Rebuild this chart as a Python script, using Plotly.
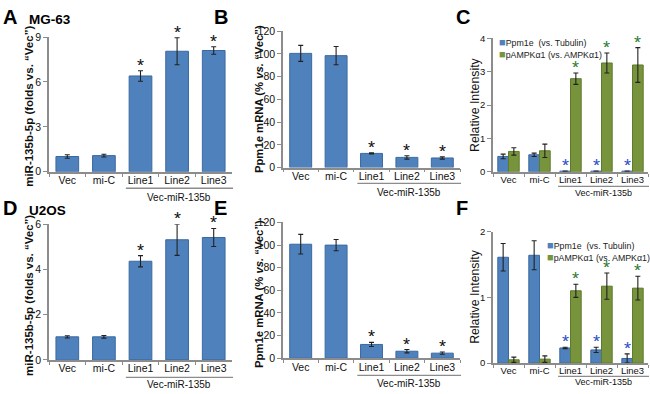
import plotly.graph_objects as go

W, H = 650, 394

cats = ["Vec", "mi-C", "Line1", "Line2", "Line3"]

# Panel A (MG-63 miR-135b-5p)
a_vals = [1.02, 1.08, 6.4, 8.05, 8.1]
a_err = [0.12, 0.09, 0.35, 0.9, 0.25]
# Panel B (MG-63 Ppm1e mRNA)
b_vals = [100.5, 98.5, 12.5, 9.0, 8.5]
b_err = [7.0, 8.0, 0.5, 1.5, 1.0]
# Panel C (MG-63 relative intensity)
c_ppm = [0.46, 0.51, 0.02, 0.02, 0.02]
c_ppm_err = [0.07, 0.05, 0.0, 0.0, 0.0]
c_amp = [0.61, 0.63, 2.79, 3.26, 3.2]
c_amp_err = [0.11, 0.2, 0.17, 0.3, 0.52]
# Panel D (U2OS miR-135b-5p)
d_vals = [1.02, 1.02, 4.36, 5.31, 5.41]
d_err = [0.05, 0.06, 0.25, 0.69, 0.4]
# Panel E (U2OS Ppm1e mRNA)
e_vals = [100.8, 100.0, 12.2, 6.2, 4.5]
e_err = [8.7, 5.0, 1.8, 1.5, 1.0]
# Panel F (U2OS relative intensity)
f_ppm = [1.61, 1.64, 0.23, 0.2, 0.07]
f_ppm_err = [0.21, 0.22, 0.01, 0.04, 0.07]
f_amp = [0.05, 0.06, 1.1, 1.17, 1.14]
f_amp_err = [0.04, 0.05, 0.1, 0.2, 0.18]

star_idx = [2, 3, 4]

BLUE = "#4F81BD"
BLUE_LINE = "#3A69A0"
GREEN = "#77933C"
GREEN_LINE = "#5E7A2C"
STAR_BLUE = "#2A4FC8"
STAR_GREEN = "#2E7D32"
AXIS = "#8C8C8C"
FONT = "Arial, Liberation Sans, sans-serif"


def px(x):
    return x / W


def py(y):
    return 1 - y / H


# panel geometry in pixels: (x0, x1, ytop, ybottom, ymax, dtick, tickfont, groupfont, underline_y, label_y)
panels = {
    "A": (49, 232, 32, 171, 9, 3, 10.5, 10, 188, 197),
    "B": (283, 460, 26, 166.7, 120, 20, 10.5, 10, 183, 192),
    "C": (493, 648, 33.3, 171, 4, 1, 9.5, 9, 186, 193),
    "D": (49, 232, 225, 365, 6, 2, 10.5, 10, 383, 390),
    "E": (283, 460, 223.3, 363.3, 120, 20, 10.5, 10, 381, 389),
    "F": (493, 648, 232.7, 368.3, 2, 1, 9.5, 9, 382, 388),
}
order = ["A", "B", "C", "D", "E", "F"]

fig = go.Figure()
annotations = []
shapes = []

single = {"A": (a_vals, a_err), "B": (b_vals, b_err), "D": (d_vals, d_err), "E": (e_vals, e_err)}
double = {"C": (c_ppm, c_ppm_err, c_amp, c_amp_err), "F": (f_ppm, f_ppm_err, f_amp, f_amp_err)}

err_style = dict(type="data", visible=True, color="#222222", thickness=1.1, width=2.5)


def star(xa, ya, x, y, color, xshift=0):
    return dict(x=x, y=y, xref=xa, yref=ya, text="*", showarrow=False,
                yanchor="bottom", valign="top", height=9, yshift=4, xshift=xshift,
                font=dict(family=FONT, size=18, color=color))


for i, key in enumerate(order):
    n = "" if i == 0 else str(i + 1)
    xa, ya = "x" + n, "y" + n
    x0, x1, yt, yb, ymax, dt, tf, gf, uly, lby = panels[key]
    step_px = (x1 - x0) / 5
    if key in single:
        vals, errs = single[key]
        fig.add_trace(go.Bar(
            x=cats, y=vals, xaxis=xa, yaxis=ya, width=0.62, offset=-0.31,
            marker=dict(color=BLUE, line=dict(color=BLUE_LINE, width=1)),
            error_y=dict(array=errs, **err_style), showlegend=False))
        for j in star_idx:
            annotations.append(star(xa, ya, cats[j], vals[j] + errs[j], "#111111"))
    else:
        pv, pe, av, ae = double[key]
        bw = 0.345
        fig.add_trace(go.Bar(
            x=cats, y=pv, xaxis=xa, yaxis=ya, width=bw, offset=-bw,
            marker=dict(color=BLUE, line=dict(color=BLUE_LINE, width=1)),
            error_y=dict(array=pe, **err_style), showlegend=False))
        fig.add_trace(go.Bar(
            x=cats, y=av, xaxis=xa, yaxis=ya, width=bw, offset=0,
            marker=dict(color=GREEN, line=dict(color=GREEN_LINE, width=1)),
            error_y=dict(array=ae, **err_style), showlegend=False))
        shift = bw / 2 * step_px
        for j in star_idx:
            annotations.append(star(xa, ya, cats[j], pv[j] + pe[j], STAR_BLUE, -shift))
            annotations.append(star(xa, ya, cats[j], av[j] + ae[j], STAR_GREEN, shift))

    fig.layout["xaxis" + n] = dict(
        domain=[px(x0), px(x1)], anchor=ya, type="category",
        categoryorder="array", categoryarray=cats, range=[-0.5, 4.5],
        showline=True, linecolor=AXIS, linewidth=1.5, ticks="outside",
        tickson="boundaries", ticklen=3, tickcolor=AXIS, tickwidth=1.2,
        tickangle=0, ticklabelstandoff=-2,
        tickfont=dict(family=FONT, size=tf, color="#111111"),
        showgrid=False, zeroline=False, fixedrange=True)
    fig.layout["yaxis" + n] = dict(
        domain=[py(yb), py(yt)], anchor=xa, range=[0, ymax], dtick=dt,
        showline=True, linecolor=AXIS, linewidth=1.5, ticks="outside",
        ticklen=4, tickcolor=AXIS, tickwidth=1.2,
        tickfont=dict(family=FONT, size=tf, color="#111111"),
        showgrid=False, zeroline=False, fixedrange=True)

    # group underline and label
    shapes.append(dict(type="line", xref="paper", yref="paper",
                       x0=px(x0 + (x1 - x0) * 0.42), x1=px(x1 + 1),
                       y0=py(uly), y1=py(uly),
                       line=dict(color=AXIS, width=1.3)))
    annotations.append(dict(
        x=px(x0 + (x1 - x0) * 0.71), y=py(lby), xref="paper", yref="paper",
        text="Vec-miR-135b", showarrow=False, yanchor="middle", xanchor="center",
        font=dict(family=FONT, size=gf, color="#111111")))

# axis titles as rotated annotations
ytitles = {
    "A": ("miR-135b-5p (folds vs. \u201cVec\u201d)", 29, True, 11.5, 104),
    "B": ("Ppm1e mRNA (% <i>vs.</i> \u201cVec\u201d)", 259, True, 11.3, 96),
    "C": ("Relative Intensity", 475, False, 12.3, 102),
    "D": ("miR-135b-5p (folds vs. \u201cVec\u201d)", 29, True, 11.5, 299),
    "E": ("Ppm1e mRNA (% <i>vs.</i> \u201cVec\u201d)", 259, True, 11.3, 297),
    "F": ("Relative Intensity", 475, False, 12.3, 300),
}
for key, (txt, xc, bold, fs, yc) in ytitles.items():
    annotations.append(dict(
        x=px(xc), y=py(yc), xref="paper", yref="paper",
        text=("<b>%s</b>" % txt) if bold else txt, textangle=-90,
        showarrow=False, xanchor="center", yanchor="middle",
        font=dict(family=FONT, size=fs, color="#111111")))

# panel letters and cell line names
letters = [("A", 1, 11), ("B", 212, 11), ("C", 454, 11),
           ("D", 1, 208), ("E", 212, 208), ("F", 454, 208)]
for t, x, y in letters:
    annotations.append(dict(x=px(x), y=py(y), xref="paper", yref="paper", text="<b>%s</b>" % t,
                            showarrow=False, xanchor="left", yanchor="middle",
                            font=dict(family=FONT, size=20, color="#000000")))
for t, x, y in [("MG-63", 27, 14), ("U2OS", 27, 211)]:
    annotations.append(dict(x=px(x), y=py(y), xref="paper", yref="paper", text="<b>%s</b>" % t,
                            showarrow=False, xanchor="left", yanchor="middle",
                            font=dict(family=FONT, size=13.5, color="#000000")))

# legends
legend_items = [("Ppm1e  (vs. Tubulin)", BLUE), ("pAMPK\u03b11 (vs. AMPK\u03b11)", GREEN)]
for (lx, ly) in [(497, 37.5), (545, 247)]:
    for k, (lt, col) in enumerate(legend_items):
        annotations.append(dict(
            x=px(lx), y=py(ly + k * 11.5), xref="paper", yref="paper",
            text="<span style='color:%s;font-size:11px'>\u25a0</span>%s" % (col, lt),
            showarrow=False, xanchor="left", yanchor="middle",
            font=dict(family=FONT, size=8.8, color="#222222")))

fig.update_layout(
    width=W, height=H, margin=dict(l=0, r=0, t=0, b=0),
    paper_bgcolor="white", plot_bgcolor="white",
    barmode="overlay", showlegend=False,
    annotations=annotations, shapes=shapes,
    font=dict(family=FONT),
)

fig.write_html("out.html", config={"displayModeBar": False},
               post_script="document.body.style.margin='0';document.body.style.overflow='hidden';")
